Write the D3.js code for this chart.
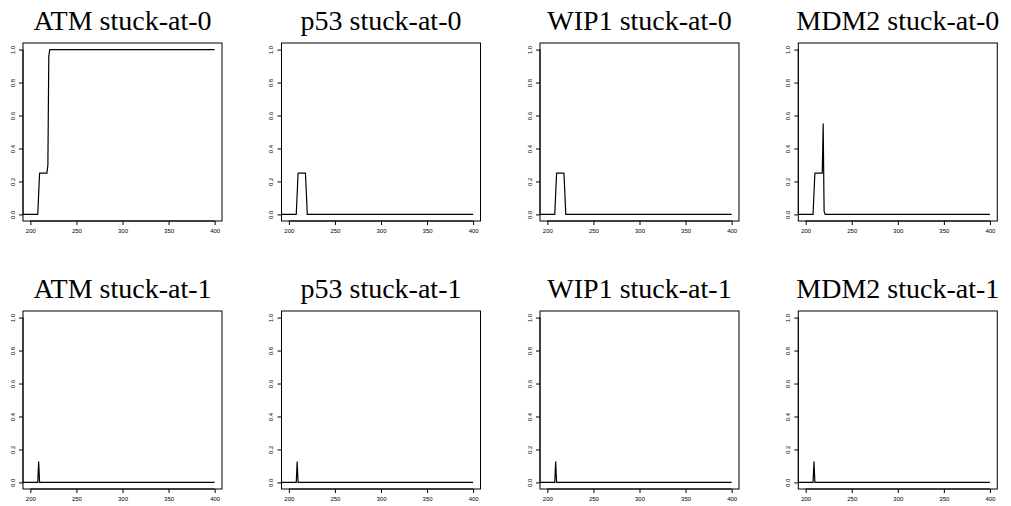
<!DOCTYPE html>
<html>
<head>
<meta charset="utf-8">
<script src="https://cdn.jsdelivr.net/npm/d3@7"></script>
<style>
  body { margin: 0; background: #fff; }
  .title { font-family: "Liberation Serif", "Times New Roman", serif; }
  .tick text { font-family: "Liberation Sans", Arial, sans-serif; }
</style>
</head>
<body>
<div id="chart"></div>
<script>
// tick labels
var xTicks = [200, 250, 300, 350, 400];
var yTicks = [0, 0.2, 0.4, 0.6, 0.8, 1.0];

var titles = ["ATM stuck-at-0", "p53 stuck-at-0", "WIP1 stuck-at-0", "MDM2 stuck-at-0",
              "ATM stuck-at-1", "p53 stuck-at-1", "WIP1 stuck-at-1", "MDM2 stuck-at-1"];

// time steps / values (breakpoints of each trace)
var atm0T  = [190, 208, 209, 210, 218, 219, 220, 221, 400];
var atm0V  = [0,   0,   0.125, 0.25, 0.25, 0.3, 0.96, 1, 1];
var p530T  = [190, 208, 209, 210, 218, 219, 220, 400];
var p530V  = [0,   0,   0.125, 0.25, 0.25, 0.125, 0, 0];
var wip0T  = [190, 208, 209, 210, 218, 219, 220, 400];
var wip0V  = [0,   0,   0.125, 0.25, 0.25, 0.125, 0, 0];
var mdm0T  = [190, 208, 209, 210, 218, 219, 220, 221, 400];
var mdm0V  = [0,   0,   0.125, 0.25, 0.25, 0.55, 0.02, 0, 0];
var atm1T  = [190, 208, 209, 210, 400];
var atm1V  = [0,   0,   0.125, 0, 0];
var p531T  = [190, 208, 209, 210, 400];
var p531V  = [0,   0,   0.125, 0, 0];
var wip1T  = [190, 208, 209, 210, 400];
var wip1V  = [0,   0,   0.125, 0, 0];
var mdm1T  = [190, 208, 209, 210, 400];
var mdm1V  = [0,   0,   0.125, 0, 0];

var seriesT = [atm0T, p530T, wip0T, mdm0T, atm1T, p531T, wip1T, mdm1T];
var seriesV = [atm0V, p530V, wip0V, mdm0V, atm1V, p531V, wip1V, mdm1V];

var width = 1011, height = 506;
var colLeft = [23, 281.5, 540, 798.3],
    rowTop = [43, 311],
    boxW = 199,
    boxH = 178;

var svg = d3.select("#chart").append("svg")
    .attr("width", width)
    .attr("height", height);

// R style 4% padding around the limits
var x = d3.scaleLinear().domain([192, 408]).range([0, boxW]);
var y = d3.scaleLinear().domain([-0.04, 1.04]).range([boxH, 0]);

var line = d3.line()
    .x(function(d) { return x(d[0]); })
    .y(function(d) { return y(d[1]); });

titles.forEach(function(title, i) {
    var col = i % 4, row = Math.floor(i / 4);
    var g = svg.append("g")
        .attr("transform", "translate(" + colLeft[col] + "," + rowTop[row] + ")");

    var clipId = "clip" + i;
    g.append("clipPath").attr("id", clipId)
        .append("rect").attr("width", boxW).attr("height", boxH);

    var pts = seriesT[i].map(function(t, k) { return [t, seriesV[i][k]]; });

    g.append("path")
        .datum(pts)
        .attr("clip-path", "url(#" + clipId + ")")
        .attr("fill", "none")
        .attr("stroke", "#000")
        .attr("stroke-width", 1.2)
        .attr("stroke-linejoin", "round")
        .attr("d", line);

    g.append("rect")
        .attr("width", boxW)
        .attr("height", boxH)
        .attr("fill", "none")
        .attr("stroke", "#000")
        .attr("stroke-width", 1);

    var xAxis = g.append("g")
        .attr("transform", "translate(0," + boxH + ")")
        .call(d3.axisBottom(x).tickValues(xTicks).tickSize(4).tickPadding(3.5)
            .tickFormat(d3.format("d")));
    xAxis.select(".domain")
        .attr("d", "M" + x(200) + ",0H" + x(400));
    xAxis.selectAll("text").attr("font-size", 6).attr("fill", "#000");

    var yAxis = g.append("g")
        .call(d3.axisLeft(y).tickValues(yTicks).tickSize(4).tickFormat(d3.format(".1f")));
    yAxis.select(".domain")
        .attr("d", "M0," + y(0) + "V" + y(1));
    yAxis.selectAll("text")
        .attr("font-size", 6)
        .attr("fill", "#000")
        .attr("text-anchor", "middle")
        .attr("x", null)
        .attr("transform", "translate(-10.5,0) rotate(-90)")
        .attr("dy", "0.35em");

    g.append("text")
        .attr("class", "title")
        .attr("x", boxW / 2)
        .attr("y", -13)
        .attr("text-anchor", "middle")
        .attr("font-size", 28)
        .text(title);
});
</script>
</body>
</html>
